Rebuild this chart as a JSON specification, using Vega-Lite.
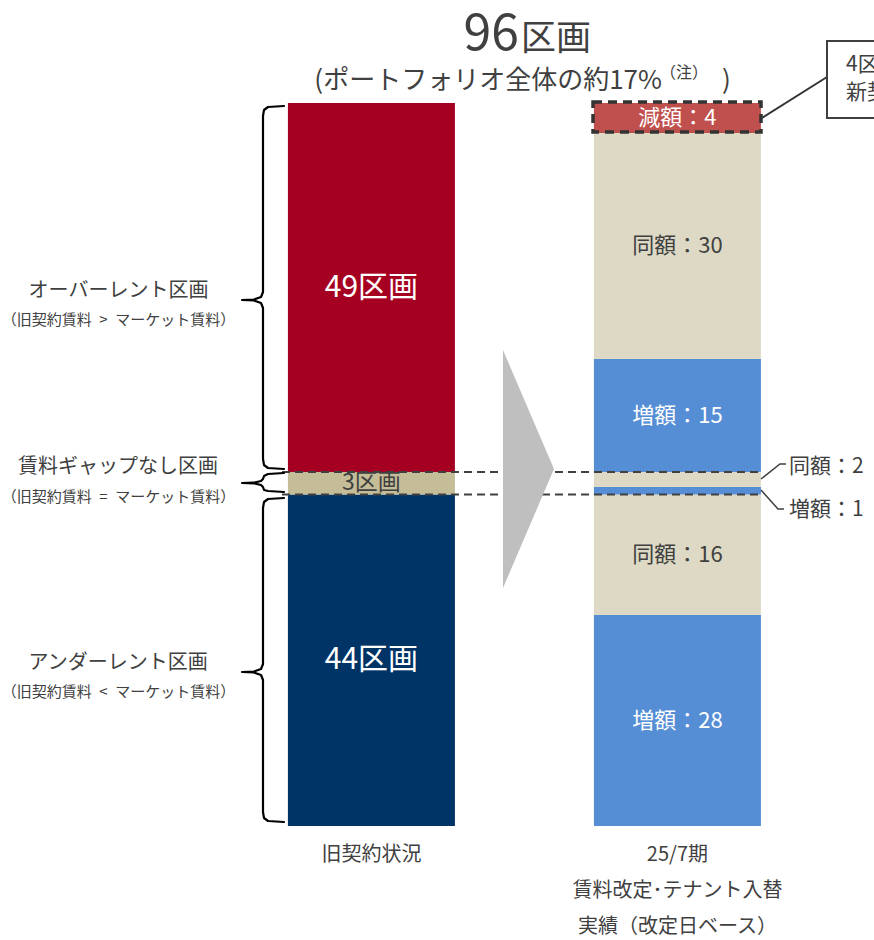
{
  "$schema": "https://vega.github.io/schema/vega-lite/v6.json",
  "width": 874,
  "height": 940,
  "autosize": {"type": "fit", "contains": "padding"},
  "padding": 0,
  "background": "white",
  "config": {"view": {"stroke": null}, "font": "Noto Sans CJK JP", "text": {"font": "Noto Sans CJK JP"}},
  "datasets": {
    "bars": [
      {"状況": "旧契約状況", "区分": "アンダーレント", "区画数": 44, "順": 1, "ラベル": "44区画"},
      {"状況": "旧契約状況", "区分": "ギャップなし", "区画数": 3, "順": 2, "ラベル": "3区画"},
      {"状況": "旧契約状況", "区分": "オーバーレント", "区画数": 49, "順": 3, "ラベル": "49区画"},
      {"状況": "25/7期", "区分": "増額", "区画数": 28, "順": 1, "ラベル": "増額：28"},
      {"状況": "25/7期", "区分": "同額", "区画数": 16, "順": 2, "ラベル": "同額：16"},
      {"状況": "25/7期", "区分": "増額", "区画数": 1, "順": 3, "ラベル": ""},
      {"状況": "25/7期", "区分": "同額", "区画数": 2, "順": 4, "ラベル": ""},
      {"状況": "25/7期", "区分": "増額", "区画数": 15, "順": 5, "ラベル": "増額：15"},
      {"状況": "25/7期", "区分": "同額", "区画数": 30, "順": 6, "ラベル": "同額：30"},
      {"状況": "25/7期", "区分": "減額", "区画数": 4, "順": 7, "ラベル": "減額：4"}
    ],
    "axislabels": [
      {"状況": "旧契約状況", "見出し": ["旧契約状況"]},
      {"状況": "25/7期", "見出し": ["25/7期", "賃料改定･テナント入替", "実績（改定日ベース）"]}
    ],
    "boundary": [{"境界": 44}, {"境界": 47}],
    "arrow": [
      {"横": 1.4297, "上": 63.203, "下": 31.602},
      {"横": 1.5964, "上": 47.402, "下": 47.402}
    ],
    "brace": [
      {"組": "オーバーレント", "順": 1, "横": 0.7141, "縦": 95.602},
      {"組": "オーバーレント", "順": 2, "横": 0.6618, "縦": 95.469},
      {"組": "オーバーレント", "順": 3, "横": 0.6487, "縦": 95.070},
      {"組": "オーバーレント", "順": 4, "横": 0.6454, "縦": 94.274},
      {"組": "オーバーレント", "順": 5, "横": 0.6454, "縦": 70.905},
      {"組": "オーバーレント", "順": 6, "横": 0.6389, "縦": 70.241},
      {"組": "オーバーレント", "順": 7, "横": 0.6160, "縦": 69.909},
      {"組": "オーバーレント", "順": 8, "横": 0.5768, "縦": 69.842},
      {"組": "オーバーレント", "順": 9, "横": 0.6160, "縦": 69.776},
      {"組": "オーバーレント", "順": 10, "横": 0.6389, "縦": 69.444},
      {"組": "オーバーレント", "順": 11, "横": 0.6454, "縦": 68.780},
      {"組": "オーバーレント", "順": 12, "横": 0.6454, "縦": 48.730},
      {"組": "オーバーレント", "順": 13, "横": 0.6487, "縦": 47.934},
      {"組": "オーバーレント", "順": 14, "横": 0.6618, "縦": 47.535},
      {"組": "オーバーレント", "順": 15, "横": 0.7141, "縦": 47.402},
      {"組": "ギャップなし", "順": 1, "横": 0.7141, "縦": 46.871},
      {"組": "ギャップなし", "順": 2, "横": 0.6618, "縦": 46.739},
      {"組": "ギャップなし", "順": 3, "横": 0.6487, "縦": 46.473},
      {"組": "ギャップなし", "順": 4, "横": 0.6454, "縦": 46.075},
      {"組": "ギャップなし", "順": 5, "横": 0.6389, "縦": 45.809},
      {"組": "ギャップなし", "順": 6, "横": 0.6160, "縦": 45.583},
      {"組": "ギャップなし", "順": 7, "横": 0.5768, "縦": 45.544},
      {"組": "ギャップなし", "順": 8, "横": 0.6160, "縦": 45.504},
      {"組": "ギャップなし", "順": 9, "横": 0.6389, "縦": 45.278},
      {"組": "ギャップなし", "順": 10, "横": 0.6454, "縦": 45.012},
      {"組": "ギャップなし", "順": 11, "横": 0.6487, "縦": 44.614},
      {"組": "ギャップなし", "順": 12, "横": 0.6618, "縦": 44.481},
      {"組": "ギャップなし", "順": 13, "横": 0.7141, "縦": 44.349},
      {"組": "アンダーレント", "順": 1, "横": 0.7141, "縦": 43.552},
      {"組": "アンダーレント", "順": 2, "横": 0.6618, "縦": 43.419},
      {"組": "アンダーレント", "順": 3, "横": 0.6487, "縦": 43.021},
      {"組": "アンダーレント", "順": 4, "横": 0.6454, "縦": 42.224},
      {"組": "アンダーレント", "順": 5, "横": 0.6454, "縦": 21.510},
      {"組": "アンダーレント", "順": 6, "横": 0.6389, "縦": 20.846},
      {"組": "アンダーレント", "順": 7, "横": 0.6160, "縦": 20.515},
      {"組": "アンダーレント", "順": 8, "横": 0.5768, "縦": 20.448},
      {"組": "アンダーレント", "順": 9, "横": 0.6160, "縦": 20.382},
      {"組": "アンダーレント", "順": 10, "横": 0.6389, "縦": 20.050},
      {"組": "アンダーレント", "順": 11, "横": 0.6454, "縦": 19.386},
      {"組": "アンダーレント", "順": 12, "横": 0.6454, "縦": 1.859},
      {"組": "アンダーレント", "順": 13, "横": 0.6487, "縦": 1.062},
      {"組": "アンダーレント", "順": 14, "横": 0.6618, "縦": 0.664},
      {"組": "アンダーレント", "順": 15, "横": 0.7141, "縦": 0.531}
    ],
    "leader": [
      {"組": "同額", "順": 1, "横": 2.2729, "縦": 46.075},
      {"組": "同額", "順": 2, "横": 2.3350, "縦": 48.066},
      {"組": "同額", "順": 3, "横": 2.3546, "縦": 48.066},
      {"組": "増額", "順": 1, "横": 2.2729, "縦": 44.614},
      {"組": "増額", "順": 2, "横": 2.3284, "縦": 42.091},
      {"組": "増額", "順": 3, "横": 2.3480, "縦": 42.091}
    ]
  },
  "resolve": {"scale": {"x": "independent"}},
  "layer": [
    {
      "data": {"name": "bars"},
      "layer": [
        {
          "mark": {"type": "bar"},
          "encoding": {
            "x": {"field": "状況", "type": "nominal", "axis": null, "scale": {"domain": ["旧契約状況", "25/7期"], "paddingInner": 0.4542, "paddingOuter": 0.6552, "align": 0.718, "round": false}},
            "y": {"field": "区画数", "type": "quantitative", "stack": "zero", "axis": null, "scale": {"domain": [-15.137, 109.676], "nice": false, "zero": false}},
            "order": {"field": "順", "type": "quantitative"},
            "color": {"field": "区分", "type": "nominal", "legend": null, "scale": {"domain": ["オーバーレント", "ギャップなし", "アンダーレント", "減額", "同額", "増額"], "range": ["#A50021", "#C4BD97", "#003366", "#C0504D", "#DDD9C4", "#558ED5"]}}
          }
        },
        {
          "transform": [
            {"stack": "区画数", "groupby": ["状況"], "sort": [{"field": "順", "order": "ascending"}], "as": ["下端", "上端"]},
            {"filter": "datum['ラベル'] !== ''"},
            {"fold": ["下端", "上端"], "as": ["端", "値"]},
            {"aggregate": [{"op": "mean", "field": "値", "as": "中央"}], "groupby": ["状況", "区分", "ラベル"]}
          ],
          "mark": {"type": "text", "align": "center", "baseline": "middle"},
          "encoding": {
            "x": {"field": "状況", "type": "nominal", "axis": null, "scale": {"domain": ["旧契約状況", "25/7期"], "paddingInner": 0.4542, "paddingOuter": 0.6552, "align": 0.718, "round": false}},
            "y": {"field": "中央", "type": "quantitative", "axis": null, "scale": {"domain": [-15.137, 109.676], "nice": false, "zero": false}},
            "text": {"field": "ラベル"},
            "color": {"condition": {"test": "datum['区分'] === '同額' || datum['区分'] === 'ギャップなし'", "value": "#404040"}, "value": "#ffffff"},
            "size": {"condition": [{"test": "datum['区分'] === 'オーバーレント' || datum['区分'] === 'アンダーレント'", "value": 30}, {"test": "datum['区分'] === 'ギャップなし'", "value": 23}], "value": 22}
          }
        },
        {
          "data": {"name": "axislabels"},
          "mark": {"type": "text", "align": "center", "baseline": "top", "fontSize": 20, "lineHeight": 36, "color": "#404040"},
          "encoding": {
            "x": {"field": "状況", "type": "nominal", "axis": null, "scale": {"domain": ["旧契約状況", "25/7期"], "paddingInner": 0.4542, "paddingOuter": 0.6552, "align": 0.718, "round": false}},
            "y": {"datum": -2.523, "type": "quantitative", "axis": null, "scale": {"domain": [-15.137, 109.676], "nice": false, "zero": false}},
            "text": {"field": "見出し"}
          }
        }
      ]
    },
    {
      "layer": [
        {
          "data": {"name": "boundary"},
          "mark": {"type": "rule", "color": "#404040", "strokeWidth": 2, "strokeDash": [8, 5]},
          "encoding": {
            "x": {"datum": 0.7075, "type": "quantitative", "axis": null, "scale": {"domain": [-0.2141, 2.6422], "nice": false, "zero": false}},
            "x2": {"datum": 2.2729},
            "y": {"field": "境界", "type": "quantitative", "axis": null, "scale": {"domain": [-15.137, 109.676], "nice": false, "zero": false}}
          }
        },
        {
          "data": {"name": "arrow"},
          "mark": {"type": "area", "color": "#BFBFBF", "orient": "vertical"},
          "encoding": {
            "x": {"field": "横", "type": "quantitative", "axis": null, "scale": {"domain": [-0.2141, 2.6422], "nice": false, "zero": false}},
            "y": {"field": "上", "type": "quantitative", "stack": null, "axis": null, "scale": {"domain": [-15.137, 109.676], "nice": false, "zero": false}},
            "y2": {"field": "下"}
          }
        },
        {
          "data": {"name": "brace"},
          "mark": {"type": "line", "color": "#000000", "strokeWidth": 2.2, "strokeJoin": "round", "strokeCap": "round"},
          "encoding": {
            "x": {"field": "横", "type": "quantitative", "axis": null, "scale": {"domain": [-0.2141, 2.6422], "nice": false, "zero": false}},
            "y": {"field": "縦", "type": "quantitative", "axis": null, "scale": {"domain": [-15.137, 109.676], "nice": false, "zero": false}},
            "detail": {"field": "組"},
            "order": {"field": "順", "type": "quantitative"}
          }
        },
        {
          "data": {"values": [{}]},
          "mark": {"type": "rect", "fill": "transparent", "stroke": "#333333", "strokeWidth": 3.5, "strokeDash": [9, 6]},
          "encoding": {
            "x": {"datum": 1.7239, "type": "quantitative", "axis": null, "scale": {"domain": [-0.2141, 2.6422], "nice": false, "zero": false}},
            "x2": {"datum": 2.2729},
            "y": {"datum": 96.133, "type": "quantitative", "axis": null, "scale": {"domain": [-15.137, 109.676], "nice": false, "zero": false}},
            "y2": {"datum": 92.149}
          }
        },
        {
          "data": {"values": [{}]},
          "mark": {"type": "rule", "color": "#333333", "strokeWidth": 2},
          "encoding": {
            "x": {"datum": 2.2761, "type": "quantitative", "axis": null, "scale": {"domain": [-0.2141, 2.6422], "nice": false, "zero": false}},
            "x2": {"datum": 2.4886},
            "y": {"datum": 94.008, "type": "quantitative", "axis": null, "scale": {"domain": [-15.137, 109.676], "nice": false, "zero": false}},
            "y2": {"datum": 99.452}
          }
        },
        {
          "data": {"values": [{}]},
          "mark": {"type": "rect", "fill": "#ffffff", "stroke": "#404040", "strokeWidth": 2, "clip": true},
          "encoding": {
            "x": {"datum": 2.4886, "type": "quantitative", "axis": null, "scale": {"domain": [-0.2141, 2.6422], "nice": false, "zero": false}},
            "x2": {"datum": 3.0},
            "y": {"datum": 104.232, "type": "quantitative", "axis": null, "scale": {"domain": [-15.137, 109.676], "nice": false, "zero": false}},
            "y2": {"datum": 94.008}
          }
        },
        {
          "data": {"values": [{}]},
          "mark": {"type": "text", "text": "4区画は", "fontSize": 21, "color": "#404040", "align": "left", "baseline": "middle", "clip": true},
          "encoding": {
            "x": {"datum": 2.5507, "type": "quantitative", "axis": null, "scale": {"domain": [-0.2141, 2.6422], "nice": false, "zero": false}},
            "y": {"datum": 101.046, "type": "quantitative", "axis": null, "scale": {"domain": [-15.137, 109.676], "nice": false, "zero": false}}
          }
        },
        {
          "data": {"values": [{}]},
          "mark": {"type": "text", "text": "新契約賃料", "fontSize": 21, "color": "#404040", "align": "left", "baseline": "middle", "clip": true},
          "encoding": {
            "x": {"datum": 2.5507, "type": "quantitative", "axis": null, "scale": {"domain": [-0.2141, 2.6422], "nice": false, "zero": false}},
            "y": {"datum": 97.328, "type": "quantitative", "axis": null, "scale": {"domain": [-15.137, 109.676], "nice": false, "zero": false}}
          }
        },
        {
          "data": {"name": "leader"},
          "mark": {"type": "line", "color": "#404040", "strokeWidth": 1.5},
          "encoding": {
            "x": {"field": "横", "type": "quantitative", "axis": null, "scale": {"domain": [-0.2141, 2.6422], "nice": false, "zero": false}},
            "y": {"field": "縦", "type": "quantitative", "axis": null, "scale": {"domain": [-15.137, 109.676], "nice": false, "zero": false}},
            "detail": {"field": "組"},
            "order": {"field": "順", "type": "quantitative"}
          }
        },
        {
          "data": {"values": [{}]},
          "mark": {"type": "text", "text": "同額：2", "fontSize": 21, "color": "#404040", "align": "left", "baseline": "middle", "clip": true},
          "encoding": {
            "x": {"datum": 2.3644, "type": "quantitative", "axis": null, "scale": {"domain": [-0.2141, 2.6422], "nice": false, "zero": false}},
            "y": {"datum": 47.668, "type": "quantitative", "axis": null, "scale": {"domain": [-15.137, 109.676], "nice": false, "zero": false}}
          }
        },
        {
          "data": {"values": [{}]},
          "mark": {"type": "text", "text": "増額：1", "fontSize": 21, "color": "#404040", "align": "left", "baseline": "middle", "clip": true},
          "encoding": {
            "x": {"datum": 2.3644, "type": "quantitative", "axis": null, "scale": {"domain": [-0.2141, 2.6422], "nice": false, "zero": false}},
            "y": {"datum": 41.959, "type": "quantitative", "axis": null, "scale": {"domain": [-15.137, 109.676], "nice": false, "zero": false}}
          }
        },
        {
          "data": {"values": [{}]},
          "mark": {"type": "text", "text": "オーバーレント区画", "fontSize": 20, "color": "#404040", "align": "center", "baseline": "middle"},
          "encoding": {
            "x": {"datum": 0.1732, "type": "quantitative", "axis": null, "scale": {"domain": [-0.2141, 2.6422], "nice": false, "zero": false}},
            "y": {"datum": 71.037, "type": "quantitative", "axis": null, "scale": {"domain": [-15.137, 109.676], "nice": false, "zero": false}}
          }
        },
        {
          "data": {"values": [{}]},
          "mark": {"type": "text", "text": "（旧契約賃料\u2002>\u2002マーケット賃料）", "fontSize": 15, "color": "#404040", "align": "center", "baseline": "middle"},
          "encoding": {
            "x": {"datum": 0.1732, "type": "quantitative", "axis": null, "scale": {"domain": [-0.2141, 2.6422], "nice": false, "zero": false}},
            "y": {"datum": 67.187, "type": "quantitative", "axis": null, "scale": {"domain": [-15.137, 109.676], "nice": false, "zero": false}}
          }
        },
        {
          "data": {"values": [{}]},
          "mark": {"type": "text", "text": "賃料ギャップなし区画", "fontSize": 20, "color": "#404040", "align": "center", "baseline": "middle"},
          "encoding": {
            "x": {"datum": 0.1716, "type": "quantitative", "axis": null, "scale": {"domain": [-0.2141, 2.6422], "nice": false, "zero": false}},
            "y": {"datum": 47.668, "type": "quantitative", "axis": null, "scale": {"domain": [-15.137, 109.676], "nice": false, "zero": false}}
          }
        },
        {
          "data": {"values": [{}]},
          "mark": {"type": "text", "text": "（旧契約賃料\u2002=\u2002マーケット賃料）", "fontSize": 15, "color": "#404040", "align": "center", "baseline": "middle"},
          "encoding": {
            "x": {"datum": 0.1732, "type": "quantitative", "axis": null, "scale": {"domain": [-0.2141, 2.6422], "nice": false, "zero": false}},
            "y": {"datum": 43.685, "type": "quantitative", "axis": null, "scale": {"domain": [-15.137, 109.676], "nice": false, "zero": false}}
          }
        },
        {
          "data": {"values": [{}]},
          "mark": {"type": "text", "text": "アンダーレント区画", "fontSize": 20, "color": "#404040", "align": "center", "baseline": "middle"},
          "encoding": {
            "x": {"datum": 0.1716, "type": "quantitative", "axis": null, "scale": {"domain": [-0.2141, 2.6422], "nice": false, "zero": false}},
            "y": {"datum": 21.643, "type": "quantitative", "axis": null, "scale": {"domain": [-15.137, 109.676], "nice": false, "zero": false}}
          }
        },
        {
          "data": {"values": [{}]},
          "mark": {"type": "text", "text": "（旧契約賃料\u2002<\u2002マーケット賃料）", "fontSize": 15, "color": "#404040", "align": "center", "baseline": "middle"},
          "encoding": {
            "x": {"datum": 0.1732, "type": "quantitative", "axis": null, "scale": {"domain": [-0.2141, 2.6422], "nice": false, "zero": false}},
            "y": {"datum": 17.793, "type": "quantitative", "axis": null, "scale": {"domain": [-15.137, 109.676], "nice": false, "zero": false}}
          }
        },
        {
          "data": {"values": [{}]},
          "mark": {"type": "text", "text": "96", "fontSize": 50, "color": "#404040", "align": "right", "baseline": "alphabetic"},
          "encoding": {
            "x": {"datum": 1.4820, "type": "quantitative", "axis": null, "scale": {"domain": [-0.2141, 2.6422], "nice": false, "zero": false}},
            "y": {"datum": 103.037, "type": "quantitative", "axis": null, "scale": {"domain": [-15.137, 109.676], "nice": false, "zero": false}}
          }
        },
        {
          "data": {"values": [{}]},
          "mark": {"type": "text", "text": "区画", "fontSize": 35, "color": "#404040", "align": "left", "baseline": "alphabetic"},
          "encoding": {
            "x": {"datum": 1.4885, "type": "quantitative", "axis": null, "scale": {"domain": [-0.2141, 2.6422], "nice": false, "zero": false}},
            "y": {"datum": 103.037, "type": "quantitative", "axis": null, "scale": {"domain": [-15.137, 109.676], "nice": false, "zero": false}}
          }
        },
        {
          "data": {"values": [{}]},
          "mark": {"type": "text", "text": "(ポートフォリオ全体の約17%", "fontSize": 26, "color": "#404040", "align": "right", "baseline": "alphabetic"},
          "encoding": {
            "x": {"datum": 1.9493, "type": "quantitative", "axis": null, "scale": {"domain": [-0.2141, 2.6422], "nice": false, "zero": false}},
            "y": {"datum": 97.859, "type": "quantitative", "axis": null, "scale": {"domain": [-15.137, 109.676], "nice": false, "zero": false}}
          }
        },
        {
          "data": {"values": [{}]},
          "mark": {"type": "text", "text": "（注）", "fontSize": 16, "color": "#404040", "align": "left", "baseline": "alphabetic"},
          "encoding": {
            "x": {"datum": 1.9428, "type": "quantitative", "axis": null, "scale": {"domain": [-0.2141, 2.6422], "nice": false, "zero": false}},
            "y": {"datum": 99.320, "type": "quantitative", "axis": null, "scale": {"domain": [-15.137, 109.676], "nice": false, "zero": false}}
          }
        },
        {
          "data": {"values": [{}]},
          "mark": {"type": "text", "text": ")", "fontSize": 26, "color": "#404040", "align": "left", "baseline": "alphabetic"},
          "encoding": {
            "x": {"datum": 2.1454, "type": "quantitative", "axis": null, "scale": {"domain": [-0.2141, 2.6422], "nice": false, "zero": false}},
            "y": {"datum": 97.859, "type": "quantitative", "axis": null, "scale": {"domain": [-15.137, 109.676], "nice": false, "zero": false}}
          }
        }
      ]
    }
  ]
}
